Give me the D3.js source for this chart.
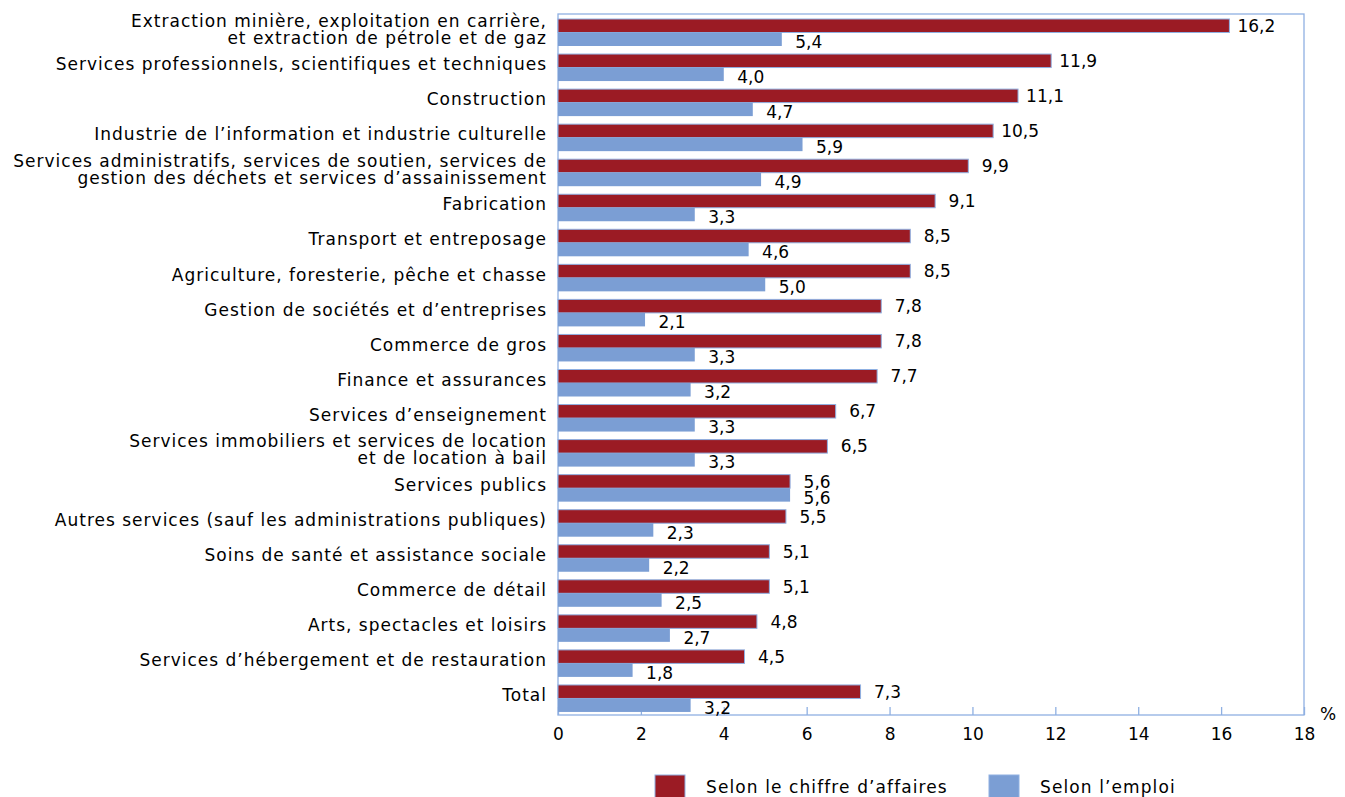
<!DOCTYPE html>
<html>
<head>
<meta charset="utf-8">
<script src="https://cdn.jsdelivr.net/npm/d3@7"></script>
<style>
  body { margin: 0; background: #fff; }
  text { font-family: "DejaVu Sans", sans-serif; fill: #000; }
</style>
</head>
<body>
<svg id="svg" width="1345" height="797"></svg>
<script>
// categories, one entry per line of the label
const categories = [
  ["Extraction minière, exploitation en carrière,", "et extraction de pétrole et de gaz"],
  ["Services professionnels, scientifiques et techniques"],
  ["Construction"],
  ["Industrie de l’information et industrie culturelle"],
  ["Services administratifs, services de soutien, services de", "gestion des déchets et services d’assainissement"],
  ["Fabrication"],
  ["Transport et entreposage"],
  ["Agriculture, foresterie, pêche et chasse"],
  ["Gestion de sociétés et d’entreprises"],
  ["Commerce de gros"],
  ["Finance et assurances"],
  ["Services d’enseignement"],
  ["Services immobiliers et services de location", "et de location à bail"],
  ["Services publics"],
  ["Autres services (sauf les administrations publiques)"],
  ["Soins de santé et assistance sociale"],
  ["Commerce de détail"],
  ["Arts, spectacles et loisirs"],
  ["Services d’hébergement et de restauration"],
  ["Total"]
];
const chiffreAffaires = [16.2, 11.9, 11.1, 10.5, 9.9, 9.1, 8.5, 8.5, 7.8, 7.8, 7.7, 6.7, 6.5, 5.6, 5.5, 5.1, 5.1, 4.8, 4.5, 7.3];
const emploi = [5.4, 4.0, 4.7, 5.9, 4.9, 3.3, 4.6, 5.0, 2.1, 3.3, 3.2, 3.3, 3.3, 5.6, 2.3, 2.2, 2.5, 2.7, 1.8, 3.2];
const seriesNames = ["Selon le chiffre d’affaires", "Selon l’emploi"];
const xTicks = [0, 2, 4, 6, 8, 10, 12, 14, 16, 18];

const colors = ["#9b1b24", "#7b9ed4"];
const frameColor = "#8fb0e2";

const svg = d3.select("#svg");
const plotLeft = 558, plotRight = 1304, plotTop = 14, plotBottom = 715;

const x = d3.scaleLinear().domain([0, 18]).range([plotLeft, plotRight]);
const y = d3.scaleBand().domain(d3.range(categories.length)).range([plotTop, plotBottom]);
const sub = d3.scaleBand().domain([0, 1]).range([5, 32]);

const fmt = (v) => d3.format(".1f")(v).replace(".", ",");

// plot frame
svg.append("rect")
  .attr("x", plotLeft).attr("y", plotTop)
  .attr("width", plotRight - plotLeft).attr("height", plotBottom - plotTop)
  .attr("fill", "none")
  .attr("stroke", frameColor)
  .attr("stroke-width", 1.3);

// x axis: ticks pointing up inside the frame
const xAxis = svg.append("g")
  .attr("transform", "translate(0," + plotBottom + ")")
  .call(d3.axisBottom(x).tickValues(xTicks).tickSize(-8).tickPadding(13).tickFormat(d3.format("d")));
xAxis.select(".domain").remove();
xAxis.selectAll("line").attr("stroke", frameColor).attr("stroke-width", 1.3);
xAxis.selectAll("text").style("font-size", "17px").attr("fill", "#000");

svg.append("text")
  .attr("x", 1328).attr("y", 720)
  .attr("text-anchor", "middle")
  .style("font-size", "17px")
  .text("%");

// category labels
const labels = svg.append("g").selectAll("text")
  .data(categories)
  .join("text")
  .attr("text-anchor", "end")
  .style("font-size", "17px")
  .style("letter-spacing", "1px")
  .attr("transform", (d, i) => "translate(547," + (y(i) + y.bandwidth() / 2 - 2.5) + ")");
labels.selectAll("tspan")
  .data((d) => d.map((line, j) => ({ line, j, n: d.length })))
  .join("tspan")
  .attr("x", 0)
  .attr("y", (d) => (d.j - (d.n - 1) / 2) * 17)
  .attr("dy", "0.36em")
  .text((d) => d.line);

// bars
const rows = categories.map((c, i) => ({ i, values: [chiffreAffaires[i], emploi[i]] }));
const group = svg.append("g").selectAll("g")
  .data(rows)
  .join("g")
  .attr("transform", (d) => "translate(0," + y(d.i) + ")");

group.selectAll("rect")
  .data((d) => d.values.map((v, s) => ({ v, s })))
  .join("rect")
  .attr("x", x(0))
  .attr("y", (d) => sub(d.s))
  .attr("width", (d) => x(d.v) - x(0))
  .attr("height", sub.bandwidth())
  .attr("fill", (d) => colors[d.s])
  .attr("stroke", frameColor)
  .attr("stroke-width", (d) => d.s === 0 ? 1 : 0);

group.selectAll("text")
  .data((d) => d.values.map((v, s) => ({ v, s })))
  .join("text")
  .attr("x", (d) => x(d.v) + 27)
  .attr("y", (d) => sub(d.s) + sub.bandwidth() / 2 + (d.s === 1 ? 2.5 : 0))
  .attr("dy", "0.36em")
  .attr("text-anchor", "middle")
  .style("font-size", "17px")
  .text((d) => fmt(d.v));

// legend
const legendX = [655, 989];
const legend = svg.append("g").selectAll("g")
  .data(seriesNames)
  .join("g")
  .attr("transform", (d, i) => "translate(" + legendX[i] + ",775)");
legend.append("rect")
  .attr("width", 30).attr("height", 30)
  .attr("fill", (d, i) => colors[i])
  .attr("stroke", frameColor)
  .attr("stroke-width", 1);
legend.append("text")
  .attr("x", 51).attr("y", 12)
  .attr("dy", "0.36em")
  .style("font-size", "17px")
  .style("letter-spacing", "1.1px")
  .text((d) => d);
</script>
</body>
</html>
